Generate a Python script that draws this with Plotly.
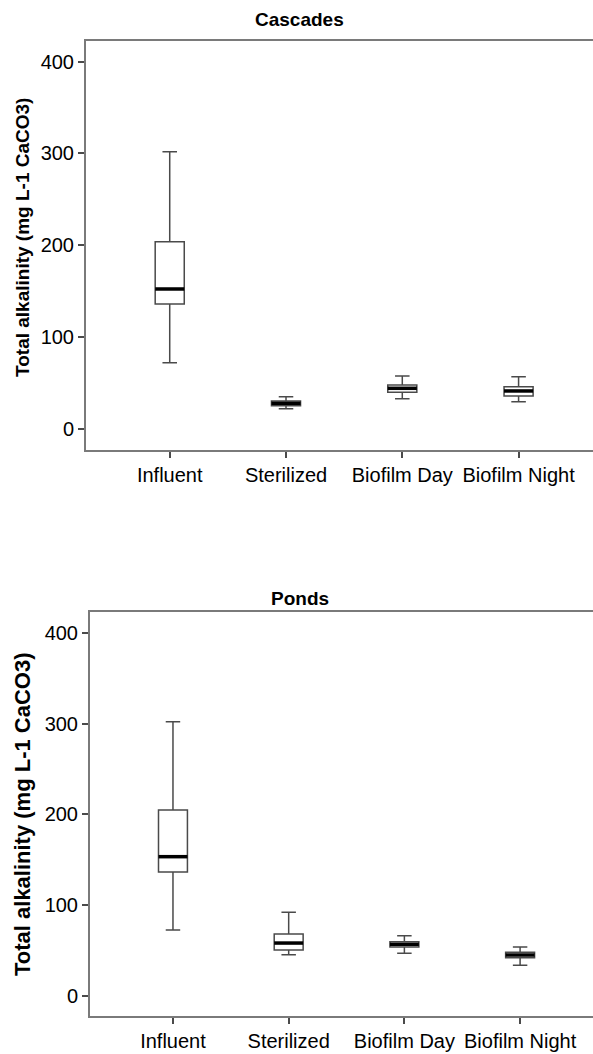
import plotly.graph_objects as go

categories = ["Influent", "Sterilized", "Biofilm Day", "Biofilm Night"]

# Cascades panel (mg L-1 CaCO3)
casc_lower = [72.4, 22.4, 33.3, 30.0]
casc_q1 = [136.3, 25.7, 40.2, 36.2]
casc_median = [152.6, 28.3, 44.6, 41.7]
casc_q3 = [204.0, 30.8, 48.2, 46.3]
casc_upper = [301.9, 35.5, 58.0, 57.2]

# Ponds panel (mg L-1 CaCO3)
pond_lower = [72.3, 45.0, 46.6, 33.3]
pond_q1 = [136.3, 50.2, 53.5, 41.7]
pond_median = [153.2, 57.9, 56.5, 44.7]
pond_q3 = [204.7, 67.9, 59.4, 47.7]
pond_upper = [302.0, 91.8, 66.0, 53.5]

yticks = [0, 100, 200, 300, 400]
titles = ["Cascades", "Ponds"]
ytitle = "Total alkalinity (mg L-1 CaCO3)"

W, H = 593, 1054
FONT = "Liberation Sans, Arial, sans-serif"
BOXW = 0.25
xpos = list(range(len(categories)))

fig = go.Figure()


def add_panel(lower, q1, med, q3, upper, xa, ya):
    fig.add_trace(go.Box(
        x=xpos, q1=q1, median=med, q3=q3, lowerfence=lower, upperfence=upper,
        width=BOXW, whiskerwidth=0.5, fillcolor="white",
        line=dict(color="#4a4a4a", width=1.5),
        boxpoints=False, hoverinfo="skip", showlegend=False,
        xaxis=xa, yaxis=ya,
    ))
    mx, my = [], []
    for i, m in enumerate(med):
        mx += [xpos[i] - BOXW / 2, xpos[i] + BOXW / 2, None]
        my += [m, m, None]
    fig.add_trace(go.Scatter(
        x=mx, y=my, mode="lines", line=dict(color="black", width=3.5),
        hoverinfo="skip", showlegend=False, xaxis=xa, yaxis=ya,
    ))


add_panel(casc_lower, casc_q1, casc_median, casc_q3, casc_upper, "x", "y")
add_panel(pond_lower, pond_q1, pond_median, pond_q3, pond_upper, "x2", "y2")

axis_common = dict(
    showline=True, linecolor="#7a7a7a", linewidth=2,
    ticks="outside", ticklen=6, tickwidth=1.5, tickcolor="#4a4a4a",
    showgrid=False, zeroline=False,
    tickfont=dict(family=FONT, size=20, color="black"),
)

# panel geometry (pixels)
top_y0, top_y1 = 450, 41
bot_y0, bot_y1 = 1016, 612

fig.update_layout(
    width=W, height=H,
    margin=dict(l=0, r=0, t=0, b=0),
    paper_bgcolor="white", plot_bgcolor="white",
    xaxis=dict(domain=[86 / W, 1], range=[-0.72, 3.64], tickvals=xpos,
               ticktext=categories, mirror=True, anchor="y", **axis_common),
    yaxis=dict(domain=[(H - top_y0) / H, (H - top_y1) / H], range=[-22.5, 422.3],
               tickvals=yticks, anchor="x", **axis_common),
    xaxis2=dict(domain=[90 / W, 1], range=[-0.717, 3.63], tickvals=xpos,
                ticktext=categories, mirror=True, anchor="y2", **axis_common),
    yaxis2=dict(domain=[(H - bot_y0) / H, (H - bot_y1) / H], range=[-22.6, 423.2],
                tickvals=yticks, anchor="x2", **axis_common),
)

annotations = [
    dict(text="<b>" + titles[0] + "</b>", x=299 / W, y=1 - 20 / H, xref="paper", yref="paper",
         showarrow=False, xanchor="center", yanchor="middle",
         font=dict(family=FONT, size=19, color="black")),
    dict(text="<b>" + titles[1] + "</b>", x=300 / W, y=1 - 598 / H, xref="paper", yref="paper",
         showarrow=False, xanchor="center", yanchor="middle",
         font=dict(family=FONT, size=19, color="black")),
    dict(text="<b>" + ytitle + "</b>", x=22 / W, y=1 - 238 / H,
         xref="paper", yref="paper", textangle=-90, showarrow=False,
         xanchor="center", yanchor="middle",
         font=dict(family=FONT, size=19, color="black")),
    dict(text="<b>" + ytitle + "</b>", x=22 / W, y=1 - ((bot_y0 + bot_y1) / 2) / H,
         xref="paper", yref="paper", textangle=-90, showarrow=False,
         xanchor="center", yanchor="middle",
         font=dict(family=FONT, size=22, color="black")),
]
fig.update_layout(annotations=annotations)

fig.write_html("out.html")
